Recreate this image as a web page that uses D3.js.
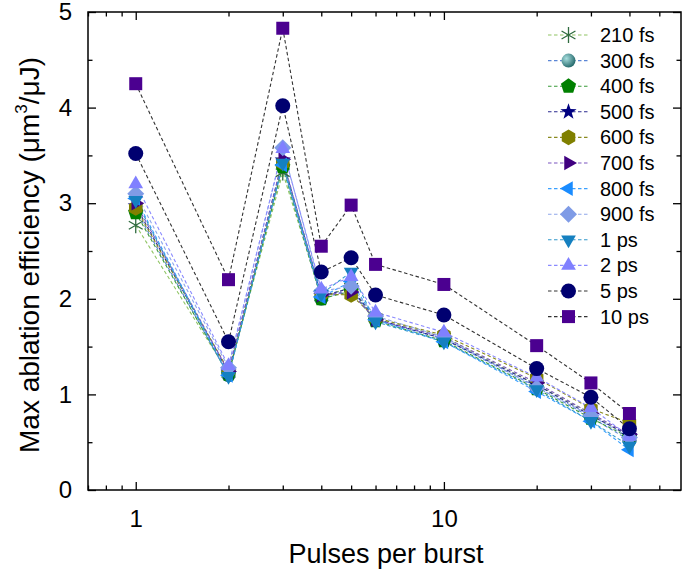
<!DOCTYPE html>
<html><head><meta charset="utf-8">
<script src="https://cdn.jsdelivr.net/npm/d3@7"></script>
<style>body{margin:0;background:#fff}svg{display:block}text{font-family:Arial,"Liberation Sans",sans-serif}</style>
</head><body>
<svg id="c" width="685" height="578"></svg>
<script>
const pulses = [1,2,3,4,5,6,10,20,30,40];
const seriesNames = ["210 fs","300 fs","400 fs","500 fs","600 fs","700 fs","800 fs","900 fs","1 ps","2 ps","5 ps","10 ps"];
const v210fs = [2.77,1.22,3.32,2.02,2.12,1.80,1.60,1.10,0.80,0.55];
const v300fs = [2.93,1.20,3.40,2.00,2.10,1.78,1.58,1.08,0.76,0.52];
const v400fs = [2.90,1.21,3.38,2.00,2.08,1.77,1.56,1.06,0.75,0.55];
const v500fs = [2.97,1.23,3.45,2.03,2.11,1.79,1.58,1.10,0.78,0.57];
const v600fs = [2.95,1.25,3.42,2.05,2.04,1.80,1.62,1.17,0.85,0.70];
const v700fs = [3.00,1.24,3.46,2.04,2.07,1.78,1.60,1.12,0.80,0.58];
const v800fs = [3.05,1.20,3.40,2.02,2.18,1.78,1.55,1.03,0.72,0.42];
const v900fs = [3.10,1.28,3.58,2.08,2.13,1.82,1.60,1.07,0.78,0.55];
const v1ps   = [3.03,1.19,3.42,2.05,2.28,1.76,1.55,1.05,0.72,0.46];
const v2ps   = [3.20,1.30,3.57,2.10,2.23,1.86,1.65,1.18,0.86,0.56];
const v5ps   = [3.52,1.55,4.02,2.28,2.43,2.04,1.83,1.27,0.97,0.64];
const v10ps  = [4.25,2.20,4.83,2.55,2.98,2.36,2.15,1.51,1.12,0.80];
const seriesValues = [v210fs,v300fs,v400fs,v500fs,v600fs,v700fs,v800fs,v900fs,v1ps,v2ps,v5ps,v10ps];
const xMajorTicks = [1,10];
const xMinorTicks = [0.7,0.8,0.9,2,3,4,5,6,7,8,9,20,30,40,50];
const yMajorTicks = [0,1,2,3,4,5];
const yMinorTicks = [0.5,1.5,2.5,3.5,4.5];

const styles = [
  {shape:"asterisk", fill:"none", stroke:"#2f6b3f", line:"#8fc463"},
  {shape:"sphere", fill:"url(#sph)", stroke:"none", line:"#5b86d6"},
  {shape:"pentagon", fill:"#008000", stroke:"none", line:"#3a9a3a"},
  {shape:"star", fill:"#000080", stroke:"none", line:"#2a2a90"},
  {shape:"hexagon", fill:"#808000", stroke:"none", line:"#8a8a20"},
  {shape:"triRight", fill:"#400080", stroke:"none", line:"#7a55c0"},
  {shape:"triLeft", fill:"#1a8cff", stroke:"none", line:"#3aa0ff"},
  {shape:"diamond", fill:"#7f9be6", stroke:"none", line:"#8fa6ea"},
  {shape:"triDown", fill:"#1580c0", stroke:"none", line:"#3399cc"},
  {shape:"triUp", fill:"#8080ff", stroke:"none", line:"#8a8aff"},
  {shape:"circle", fill:"#000070", stroke:"none", line:"#333333"},
  {shape:"square", fill:"#4b0090", stroke:"none", line:"#333333"}
];

function poly(n, r, start, rInner){
  const pts=[];
  const m = rInner ? n*2 : n;
  for(let i=0;i<m;i++){
    const a=(start + i*360/m)*Math.PI/180;
    const rr = rInner ? (i%2?rInner:r) : r;
    pts.push([rr*Math.cos(a), rr*Math.sin(a)]);
  }
  return "M"+pts.map(p=>p[0].toFixed(2)+","+p[1].toFixed(2)).join("L")+"Z";
}
function shapePath(s){
  switch(s){
    case "asterisk": {
      const r=8; let d="";
      [90,30,150].forEach(a=>{const t=a*Math.PI/180;d+=`M${-r*Math.cos(t)},${-r*Math.sin(t)}L${r*Math.cos(t)},${r*Math.sin(t)}`;});
      return d;
    }
    case "pentagon": return poly(5,8,-90);
    case "star": return poly(5,8.5,-90,3.4);
    case "hexagon": return poly(6,7.8,-90);
    case "triRight": return poly(3,8.5,0);
    case "triLeft": return poly(3,8.5,180);
    case "triDown": return poly(3,8.5,90);
    case "triUp": return poly(3,8.5,-90);
    case "diamond": return poly(4,8.5,-90);
    case "square": return "M-6.5,-6.5H6.5V6.5H-6.5Z";
  }
  return null;
}
function drawMarker(g, st, x, y){
  if(st.shape==="circle"){ g.append("circle").attr("cx",x).attr("cy",y).attr("r",7.5).attr("fill",st.fill); return; }
  if(st.shape==="sphere"){ g.append("circle").attr("cx",x).attr("cy",y).attr("r",7).attr("fill",st.fill); return; }
  const p = g.append("path").attr("d",shapePath(st.shape)).attr("transform",`translate(${x},${y})`);
  if(st.shape==="asterisk") p.attr("fill","none").attr("stroke",st.stroke).attr("stroke-width",1.3);
  else p.attr("fill",st.fill);
}

const svg = d3.select("#c");
const defs = svg.append("defs");
const rg = defs.append("radialGradient").attr("id","sph").attr("cx","35%").attr("cy","35%").attr("r","65%");
rg.append("stop").attr("offset","0%").attr("stop-color","#a8dede");
rg.append("stop").attr("offset","100%").attr("stop-color","#2a6e70");

const L=88, R=681, T=12, B=490;
const x = d3.scaleLog().domain([0.7,58.8]).range([L,R]);
const y = d3.scaleLinear().domain([0,5]).range([B,T]);

// series
const lineGen = d3.line().x(d=>x(d[0])).y(d=>y(d[1]));
const gl = svg.append("g");
seriesValues.forEach((vals,i)=>{
  const pts = pulses.map((p,j)=>[p,vals[j]]);
  gl.append("path").attr("d",lineGen(pts)).attr("fill","none")
    .attr("stroke",styles[i].line).attr("stroke-width",1.1).attr("stroke-dasharray","3.5,2.5");
});
seriesValues.forEach((vals,i)=>{
  const g = svg.append("g");
  pulses.forEach((p,j)=>drawMarker(g, styles[i], x(p), y(vals[j])));
});

// axes
const ax = svg.append("g");
const mkAxis = (gen, tr, ticks, size, labels) => {
  const a = ax.append("g").attr("transform",tr).call(gen.tickValues(ticks).tickSize(size).tickFormat(labels?d3.format("d"):""));
  a.select(".domain").remove();
  a.selectAll("line").attr("stroke","#000").attr("stroke-width",1.3);
  a.selectAll("text").attr("font-size",24).attr("fill","#000");
  return a;
};
mkAxis(d3.axisBottom(x).tickPadding(20), `translate(0,${B})`, xMajorTicks, -8, true);
mkAxis(d3.axisBottom(x), `translate(0,${B})`, xMinorTicks, -4.5, false);
mkAxis(d3.axisTop(x), `translate(0,${T})`, xMajorTicks, -8, false);
mkAxis(d3.axisTop(x), `translate(0,${T})`, xMinorTicks, -4.5, false);
mkAxis(d3.axisLeft(y).tickPadding(16), `translate(${L},0)`, yMajorTicks, -8, true);
mkAxis(d3.axisLeft(y), `translate(${L},0)`, yMinorTicks, -4.5, false);
mkAxis(d3.axisRight(y), `translate(${R},0)`, yMajorTicks, -8, false);
mkAxis(d3.axisRight(y), `translate(${R},0)`, yMinorTicks, -4.5, false);
ax.append("rect").attr("x",L).attr("y",T).attr("width",R-L).attr("height",B-T)
  .attr("fill","none").attr("stroke","#000").attr("stroke-width",1.5);

// axis titles
svg.append("text").attr("x",386).attr("y",563).attr("text-anchor","middle")
  .attr("font-size",27).text("Pulses per burst");
const yt = svg.append("text").attr("transform",`translate(39,${(T+B)/2+4}) rotate(-90)`).attr("text-anchor","middle").attr("font-size",28);
yt.append("tspan").text("Max ablation efficiency (\u03bcm");
yt.append("tspan").attr("font-size",17).attr("dy",-12).text("3");
yt.append("tspan").attr("dy",12).text("/\u03bcJ)");

// legend
const lg = svg.append("g");
seriesNames.forEach((nm,i)=>{
  const yy = 35 + i*25.6;
  lg.append("line").attr("x1",548).attr("x2",589).attr("y1",yy).attr("y2",yy)
    .attr("stroke",styles[i].line).attr("stroke-width",1.1).attr("stroke-dasharray","3.5,2.5");
  drawMarker(lg, styles[i], 568.5, yy);
  lg.append("text").attr("x",600).attr("y",yy+7).attr("font-size",20).text(nm);
});
</script>
</body></html>
